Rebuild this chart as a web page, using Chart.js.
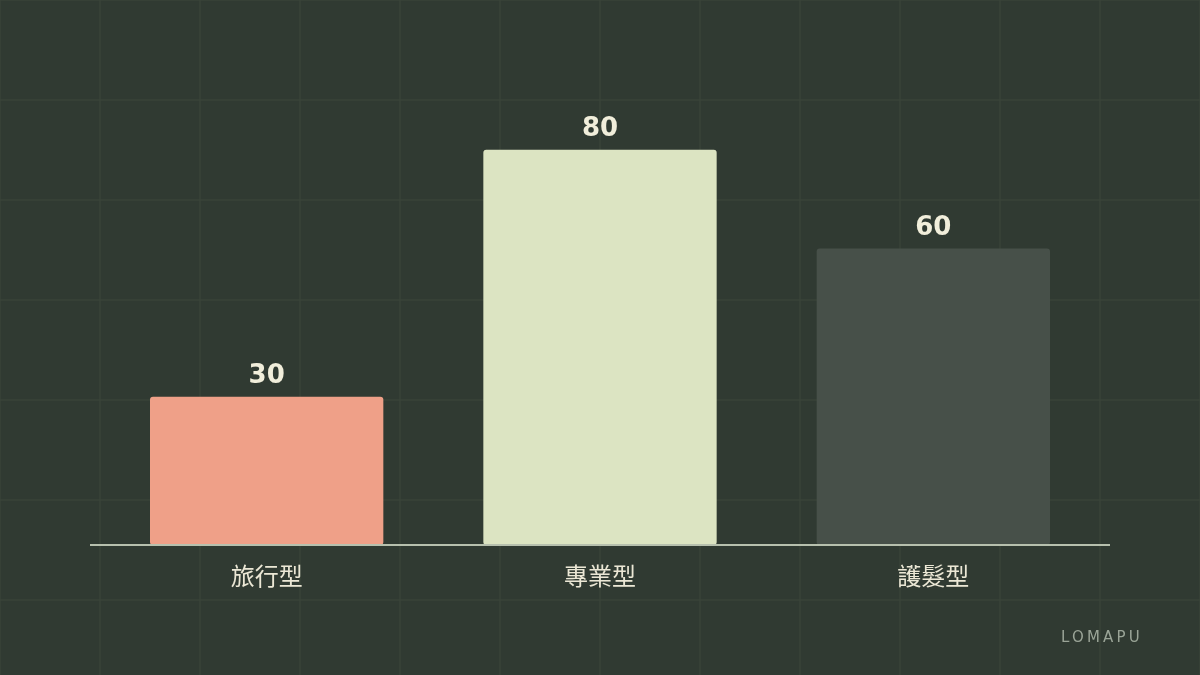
<!DOCTYPE html>
<html>
<head>
<meta charset="utf-8">
<script src="https://cdn.jsdelivr.net/npm/chart.js@4.4.1/dist/chart.umd.min.js"></script>
<style>
  html, body { margin: 0; padding: 0; background: #303a32; }
  #wrap { position: relative; width: 1200px; height: 675px; overflow: hidden; }
  #brand {
    position: absolute; right: 57px; top: 628px;
    font-family: "DejaVu Sans", sans-serif; font-size: 15px;
    letter-spacing: 3.2px; color: #9aa497;
  }
</style>
</head>
<body>
<div id="wrap">
  <canvas id="chart" width="1200" height="675"></canvas>
  <div id="brand">LOMAPU</div>
</div>
<script>
const categories = ["旅行型", "專業型", "護髮型"];
const values = [30, 80, 60];
const barColors = ["#efa088", "#dce4c2", "#475049"];

const FONT = '"DejaVu Sans", "Noto Sans CJK TC", sans-serif';

// faint background grid, every 100px
const bgGrid = {
    id: "bgGrid",
    beforeDraw(chart) {
        const ctx = chart.ctx;
        ctx.save();
        ctx.fillStyle = "#303a32";
        ctx.fillRect(0, 0, chart.width, chart.height);
        ctx.strokeStyle = "#394339";
        ctx.lineWidth = 1.5;
        ctx.beginPath();
        for (let x = 0; x <= chart.width; x += 100) {
            ctx.moveTo(x, 0);
            ctx.lineTo(x, chart.height);
        }
        for (let y = 0; y <= chart.height; y += 100) {
            ctx.moveTo(0, y);
            ctx.lineTo(chart.width, y);
        }
        ctx.stroke();
        ctx.restore();
    }
};

// baseline + value labels above bars
const barExtras = {
    id: "barExtras",
    afterDatasetsDraw(chart) {
        const ctx = chart.ctx;
        const area = chart.chartArea;
        ctx.save();
        ctx.strokeStyle = "#b7c0ae";
        ctx.lineWidth = 2;
        ctx.beginPath();
        ctx.moveTo(area.left - 10, area.bottom);
        ctx.lineTo(area.right + 10, area.bottom);
        ctx.stroke();

        ctx.fillStyle = "#f1eedb";
        ctx.font = "bold 26px " + FONT;
        ctx.textAlign = "center";
        ctx.textBaseline = "alphabetic";
        chart.getDatasetMeta(0).data.forEach((bar, i) => {
            ctx.fillText(String(values[i]), bar.x, bar.y - 14);
        });
        ctx.restore();
    }
};

new Chart(document.getElementById("chart"), {
    type: "bar",
    data: {
        labels: categories,
        datasets: [{
            data: values,
            backgroundColor: barColors,
            borderRadius: 3,
            borderSkipped: false,
            barPercentage: 0.7,
            categoryPercentage: 1.0,
        }],
    },
    options: {
        responsive: false,
        devicePixelRatio: 1,
        animation: false,
        layout: { padding: { left: 100, right: 100, top: 51, bottom: 0 } },
        plugins: {
            legend: { display: false },
            tooltip: { enabled: false },
        },
        scales: {
            y: {
                display: false,
                min: 0,
                max: 100,
            },
            x: {
                grid: { display: false, drawTicks: false },
                border: { display: false },
                ticks: {
                    color: "#ebe7d5",
                    font: { family: FONT, size: 24 },
                    padding: 19,
                },
                afterFit(scale) { scale.height = 130; },
            },
        },
    },
    plugins: [bgGrid, barExtras],
});
</script>
</body>
</html>
